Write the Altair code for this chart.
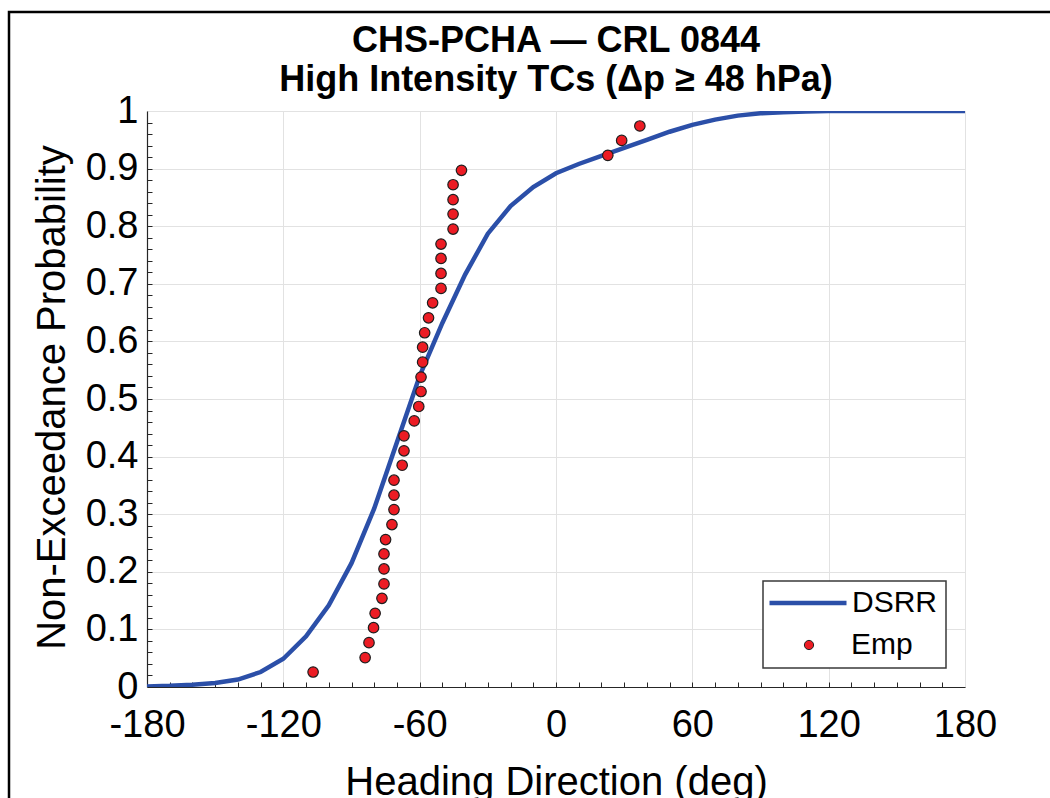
import altair as alt
import pandas as pd

# ---------------- data ----------------
title_lines = ["CHS-PCHA \u2014 CRL 0844", "High Intensity TCs (\u0394p \u2265 48 hPa)"]
series_names = ["DSRR", "Emp"]

dsrr_deg = [-180, -170, -160, -150, -140, -130, -120, -110, -100, -90, -80, -70, -60,
            -50, -40, -30, -20, -10, 0, 10, 20, 30, 40, 50, 60, 70, 80, 90, 100,
            110, 120, 130, 140, 150, 160, 170, 180]
dsrr_p = [0.001, 0.002, 0.004, 0.007, 0.013, 0.026, 0.049, 0.088, 0.142, 0.215, 0.310,
          0.425, 0.540, 0.632, 0.716, 0.787, 0.835, 0.868, 0.892, 0.908, 0.922, 0.936,
          0.950, 0.964, 0.976, 0.985, 0.992, 0.996, 0.998, 0.999, 1.0, 1.0, 1.0, 1.0,
          1.0, 1.0, 1.0]

emp_deg = [-106.9, -84.0, -82.3, -80.3, -79.6, -76.6, -75.7, -75.7, -75.7, -75.0,
           -72.2, -71.3, -71.3, -71.3, -67.7, -66.9, -66.9, -62.4, -60.4, -59.4,
           -59.4, -58.7, -58.7, -57.8, -56.1, -54.3, -50.6, -50.6, -50.6, -50.6,
           -45.3, -45.3, -45.3, -45.3, -41.6, 22.8, 28.9, 36.9]
emp_p = [0.026, 0.051, 0.077, 0.103, 0.128, 0.154, 0.179, 0.205, 0.231, 0.256,
         0.282, 0.308, 0.333, 0.359, 0.385, 0.410, 0.436, 0.462, 0.487, 0.513,
         0.538, 0.564, 0.590, 0.615, 0.641, 0.667, 0.692, 0.718, 0.744, 0.769,
         0.795, 0.821, 0.846, 0.872, 0.897, 0.923, 0.949, 0.974]

x_tick_labels = [-180, -120, -60, 0, 60, 120, 180]
y_tick_labels = [0, 0.1, 0.2, 0.3, 0.4, 0.5, 0.6, 0.7, 0.8, 0.9, 1]
x_minor_ticks = [-170, -160, -150, -140, -130, -120, -110, -100, -90, -80, -70, -60,
                 -50, -40, -30, -20, -10, 0, 10, 20, 30, 40, 50, 60, 70, 80, 90, 100,
                 110, 120, 130, 140, 150, 160, 170]
y_minor_ticks = [0.02, 0.04, 0.06, 0.08, 0.1, 0.12, 0.14, 0.16, 0.18, 0.2, 0.22, 0.24,
                 0.26, 0.28, 0.3, 0.32, 0.34, 0.36, 0.38, 0.4, 0.42, 0.44, 0.46, 0.48,
                 0.5, 0.52, 0.54, 0.56, 0.58, 0.6, 0.62, 0.64, 0.66, 0.68, 0.7, 0.72,
                 0.74, 0.76, 0.78, 0.8, 0.82, 0.84, 0.86, 0.88, 0.9, 0.92, 0.94, 0.96,
                 0.98]

# ---------------- layout / style ----------------
W, H = 818, 576
PAD_L, PAD_T, PAD_R, PAD_B = 147, 111, 85, 111
FONT = "Liberation Sans"
BLUE = "#2b4fa8"
RED = "#ec1c24"
GRID = "#e2e2e2"
AXIS = "#262626"

dsrr_df = pd.DataFrame({"deg": dsrr_deg, "p": dsrr_p, "series": series_names[0]})
emp_df = pd.DataFrame({"deg": emp_deg, "p": emp_p, "series": series_names[1]})
one_df = pd.DataFrame({"k": [0]})

xscale = alt.Scale(domain=[-180, 180], nice=False, zero=False)
yscale = alt.Scale(domain=[0, 1], nice=False, zero=False)

# legend box (drawn behind the two legends)
LBX0, LBY0, LBX1, LBY1 = 763, 581, 946, 668

legend_line = alt.Legend(
    title=None, orient="none", legendX=620, legendY=603 - 17 - PAD_T,
    padding=0, labelFont=FONT, labelFontSize=30, labelColor="black", labelOffset=3,
    symbolType="stroke", symbolSize=5929, symbolStrokeWidth=4.5, clipHeight=34,
)
legend_pts = alt.Legend(
    title=None, orient="none", legendX=620, legendY=645 - 17 - PAD_T,
    padding=0, labelFont=FONT, labelFontSize=30, labelColor="black", labelOffset=27,
    symbolType="circle", symbolSize=85, symbolOffset=27, symbolStrokeColor="#222222",
    symbolStrokeWidth=1, symbolFillColor=RED, clipHeight=34,
)

frame = alt.Chart(one_df).mark_rect(
    fill="transparent", stroke="black", strokeWidth=2.5
).encode(
    x=alt.value(9 - PAD_L), x2=alt.value(1100 - PAD_L),
    y=alt.value(12 - PAD_T), y2=alt.value(900),
)

legend_box = alt.Chart(one_df).mark_rect(
    fill="white", stroke="#3a3a3a", strokeWidth=1.5
).encode(
    x=alt.value(LBX0 - PAD_L), x2=alt.value(LBX1 - PAD_L),
    y=alt.value(LBY0 - PAD_T), y2=alt.value(LBY1 - PAD_T),
)

line = alt.Chart(dsrr_df).mark_line(strokeWidth=4.5, clip=True).encode(
    x=alt.X("deg:Q", scale=xscale, axis=alt.Axis(
        values=x_tick_labels, labelExpr="datum.value + ''", grid=True, gridColor=GRID,
        ticks=False, domainColor=AXIS, domainWidth=1.2, labelFont=FONT, labelFontSize=38,
        labelColor="black", labelPadding=19, labelFlush=False, labelOverlap=False,
        title="Heading Direction (deg)", titleFont=FONT, titleFontSize=40,
        titleFontWeight="normal", titleColor="black", titleX=W / 2, titleY=107,
        titleBaseline="alphabetic", titleAlign="center")),
    y=alt.Y("p:Q", scale=yscale, axis=alt.Axis(
        values=y_tick_labels, labelExpr="datum.value + ''", grid=True, gridColor=GRID,
        ticks=False, domainColor=AXIS, domainWidth=1.2, labelFont=FONT, labelFontSize=38,
        labelColor="black", labelPadding=9, labelFlush=False, labelOverlap=False,
        title="Non-Exceedance Probability", titleFont=FONT, titleFontSize=40,
        titleFontWeight="normal", titleColor="black", titleX=-95, titleY=H / 2 - 2,
        titleBaseline="middle", titleAlign="center", titleAngle=270)),
    color=alt.Color("series:N", scale=alt.Scale(domain=[series_names[0]], range=[BLUE]),
                    legend=legend_line),
)

points = alt.Chart(emp_df).mark_point(
    filled=True, size=110, stroke="#1e1e1e", strokeWidth=1.2, opacity=1
).encode(
    x=alt.X("deg:Q", scale=xscale, axis=alt.Axis(
        orient="top", offset=-H, values=x_minor_ticks, labels=False, grid=False,
        domain=False, ticks=True, tickSize=5, tickColor=AXIS, title=None)),
    y=alt.Y("p:Q", scale=yscale, axis=alt.Axis(
        orient="right", offset=-W, values=y_minor_ticks, labels=False, grid=False,
        domain=False, ticks=True, tickSize=5, tickColor=AXIS, title=None)),
    fill=alt.Fill("series:N", scale=alt.Scale(domain=[series_names[1]], range=[RED]),
                  legend=legend_pts),
)

chart = alt.layer(frame, line, points, legend_box).resolve_axis(
    x="independent", y="independent"
).properties(
    width=W, height=H,
    autosize=alt.AutoSizeParams(type="none"),
    padding={"left": PAD_L, "top": PAD_T, "right": PAD_R, "bottom": PAD_B},
    title=alt.TitleParams(
        text=title_lines, font=FONT, fontSize=36, fontWeight="bold", color="black",
        anchor="middle", lineHeight=39, offset=-88),
).configure_view(stroke="#d4d4d4", strokeWidth=1).configure(background="white")

chart.save("out.html", embed_options={"renderer": "svg", "actions": False})
